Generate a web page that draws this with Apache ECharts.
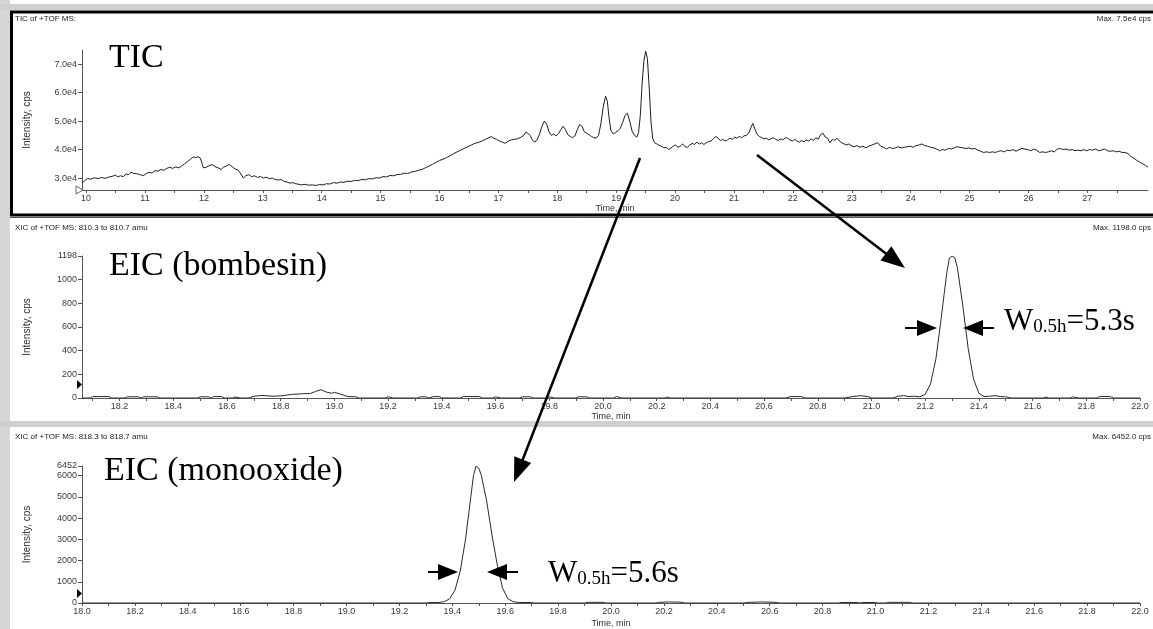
<!DOCTYPE html>
<html>
<head>
<meta charset="utf-8">
<script src="https://cdn.jsdelivr.net/npm/echarts@6/dist/echarts.min.js"></script>
<style>
html,body{margin:0;padding:0;background:#fff;}
#chart{width:1153px;height:629px;}
</style>
</head>
<body>
<div id="chart"></div>
<script>
// ---- DATA ----
// TIC: [time (min), intensity (x1e4 cps)]
const ticPoints = [
[9.93,2.82],[9.97,2.90],[10.02,2.98],[10.08,2.96],[10.14,3.01],[10.2,2.98],[10.26,3.02],[10.32,2.99],[10.38,3.03],[10.44,3.06],
[10.5,3.1],[10.54,3.04],[10.58,3.08],[10.63,3.05],[10.68,3.14],[10.72,3.12],[10.76,3.2],[10.8,3.17],[10.86,3.15],[10.92,3.12],
[10.97,3.08],[11.02,3.16],[11.07,3.2],[11.12,3.18],[11.17,3.26],[11.22,3.24],[11.27,3.3],[11.32,3.27],[11.37,3.34],[11.42,3.38],
[11.47,3.34],[11.52,3.39],[11.57,3.36],[11.62,3.42],[11.67,3.5],[11.72,3.58],[11.77,3.66],[11.82,3.74],[11.86,3.72],[11.9,3.75],
[11.94,3.7],[11.97,3.5],[11.99,3.36],[12.04,3.38],[12.09,3.44],[12.14,3.47],[12.19,3.4],[12.24,3.36],[12.29,3.3],[12.33,3.38],
[12.38,3.42],[12.43,3.48],[12.48,3.4],[12.53,3.32],[12.58,3.28],[12.63,3.14],[12.67,3.0],[12.71,3.08],[12.76,3.12],[12.81,3.05],
[12.86,3.08],[12.91,3.02],[12.96,3.06],[13.01,3.0],[13.06,3.03],[13.11,2.98],[13.16,3.0],[13.21,2.95],[13.26,2.93],[13.31,2.95],
[13.36,2.88],[13.41,2.86],[13.46,2.82],[13.51,2.84],[13.56,2.8],[13.61,2.78],[13.66,2.76],[13.72,2.78],[13.78,2.75],[13.84,2.76],
[13.9,2.74],[13.96,2.77],[14.02,2.76],[14.08,2.8],[14.14,2.79],[14.2,2.84],[14.26,2.82],[14.32,2.86],[14.38,2.85],[14.44,2.89],
[14.5,2.88],[14.56,2.92],[14.62,2.91],[14.68,2.95],[14.74,2.94],[14.8,2.98],[14.86,2.97],[14.92,3.01],[14.98,3.0],[15.04,3.05],
[15.1,3.04],[15.16,3.09],[15.22,3.08],[15.28,3.12],[15.34,3.13],[15.4,3.17],[15.46,3.16],[15.52,3.21],[15.58,3.23],[15.64,3.27],
[15.7,3.3],[15.76,3.36],[15.82,3.42],[15.88,3.48],[15.94,3.55],[16.0,3.62],[16.06,3.66],[16.12,3.72],[16.18,3.78],[16.24,3.86],
[16.3,3.92],[16.36,3.98],[16.42,4.04],[16.48,4.1],[16.54,4.16],[16.6,4.22],[16.66,4.25],[16.72,4.3],[16.78,4.36],[16.84,4.42],
[16.88,4.46],[16.92,4.4],[16.97,4.36],[17.02,4.3],[17.07,4.26],[17.12,4.22],[17.17,4.3],[17.22,4.34],[17.27,4.36],[17.32,4.38],
[17.37,4.42],[17.42,4.48],[17.47,4.62],[17.5,4.68],[17.54,4.5],[17.58,4.32],[17.62,4.26],[17.66,4.36],[17.7,4.55],[17.74,4.82],
[17.78,5.0],[17.82,4.9],[17.86,4.62],[17.9,4.5],[17.94,4.55],[17.98,4.48],[18.02,4.56],[18.06,4.7],[18.1,4.82],[18.14,4.7],
[18.18,4.52],[18.22,4.46],[18.26,4.42],[18.3,4.48],[18.34,4.7],[18.38,4.88],[18.42,4.82],[18.46,4.62],[18.5,4.58],[18.54,4.52],
[18.58,4.46],[18.62,4.42],[18.66,4.4],[18.7,4.5],[18.74,4.9],[18.78,5.5],[18.82,5.88],[18.85,5.7],[18.88,5.1],[18.91,4.68],
[18.95,4.55],[18.99,4.6],[19.03,4.66],[19.07,4.75],[19.11,4.95],[19.15,5.2],[19.19,5.28],[19.23,5.0],[19.27,4.65],[19.31,4.5],
[19.35,4.44],[19.38,4.6],[19.41,5.2],[19.44,6.3],[19.47,7.1],[19.5,7.46],[19.53,7.2],[19.56,6.2],[19.59,5.0],[19.62,4.4],
[19.65,4.24],[19.69,4.2],[19.73,4.15],[19.77,4.12],[19.81,4.06],[19.85,4.08],[19.89,4.0],[19.93,4.05],[19.97,4.12],[20.01,4.16],
[20.05,4.08],[20.09,4.12],[20.13,4.2],[20.17,4.1],[20.21,4.08],[20.25,4.16],[20.29,4.22],[20.33,4.18],[20.37,4.26],[20.41,4.2],
[20.45,4.24],[20.49,4.18],[20.53,4.24],[20.57,4.28],[20.61,4.3],[20.65,4.38],[20.69,4.46],[20.73,4.4],[20.77,4.32],[20.81,4.36],
[20.85,4.3],[20.89,4.34],[20.93,4.4],[20.97,4.36],[21.01,4.44],[21.05,4.4],[21.09,4.46],[21.13,4.42],[21.17,4.48],[21.21,4.5],
[21.25,4.58],[21.29,4.78],[21.32,4.92],[21.35,4.75],[21.39,4.55],[21.43,4.46],[21.47,4.42],[21.51,4.38],[21.55,4.4],[21.59,4.34],
[21.63,4.38],[21.67,4.42],[21.71,4.36],[21.75,4.32],[21.79,4.38],[21.83,4.34],[21.87,4.42],[21.91,4.4],[21.95,4.34],[21.99,4.3],
[22.03,4.36],[22.07,4.3],[22.11,4.26],[22.15,4.32],[22.19,4.28],[22.23,4.34],[22.27,4.3],[22.31,4.38],[22.35,4.32],[22.39,4.42],
[22.43,4.36],[22.47,4.52],[22.51,4.58],[22.55,4.44],[22.59,4.4],[22.63,4.24],[22.67,4.36],[22.71,4.32],[22.75,4.4],[22.79,4.3],
[22.83,4.24],[22.87,4.2],[22.91,4.16],[22.95,4.2],[22.99,4.14],[23.04,4.1],[23.09,4.14],[23.14,4.08],[23.19,4.12],[23.24,4.06],
[23.29,4.12],[23.34,4.16],[23.39,4.2],[23.44,4.24],[23.49,4.12],[23.54,4.08],[23.59,4.02],[23.64,4.08],[23.69,4.04],[23.74,4.06],
[23.79,4.1],[23.84,4.06],[23.89,4.08],[23.94,4.1],[23.99,4.12],[24.04,4.08],[24.09,4.14],[24.14,4.16],[24.19,4.2],[24.24,4.14],
[24.29,4.12],[24.34,4.08],[24.39,4.06],[24.44,4.02],[24.49,3.96],[24.54,4.0],[24.59,3.98],[24.64,4.04],[24.69,4.02],[24.74,4.06],
[24.79,4.1],[24.84,4.08],[24.89,4.06],[24.94,4.04],[24.99,4.06],[25.04,4.02],[25.09,4.04],[25.14,3.98],[25.19,3.94],[25.24,3.9],
[25.29,3.92],[25.34,3.9],[25.39,3.92],[25.44,3.9],[25.49,3.94],[25.54,3.96],[25.59,3.92],[25.64,3.98],[25.69,3.96],[25.74,4.0],
[25.79,3.94],[25.84,4.0],[25.89,4.04],[25.94,4.02],[25.99,4.0],[26.04,3.96],[26.09,4.02],[26.14,3.98],[26.19,3.9],[26.24,3.92],
[26.29,3.9],[26.34,3.92],[26.39,3.96],[26.44,3.92],[26.49,4.02],[26.54,4.04],[26.59,4.0],[26.64,4.02],[26.69,3.98],[26.74,4.0],
[26.79,3.96],[26.84,3.98],[26.89,3.96],[26.94,4.0],[26.99,3.96],[27.04,4.0],[27.09,3.98],[27.14,4.02],[27.19,3.96],[27.24,3.98],
[27.29,4.02],[27.34,3.96],[27.39,3.94],[27.44,3.96],[27.49,3.92],[27.54,3.94],[27.59,3.9],[27.64,3.9],[27.69,3.86],[27.74,3.76],
[27.79,3.7],[27.84,3.62],[27.89,3.56],[27.94,3.5],[27.99,3.44],[28.03,3.38]
];
// EIC bombesin (810.3-810.7 amu): [time (min), intensity (cps)]
const bombesinPoints = [
[18.06,0],[18.09,0],[18.10,12],[18.16,12],[18.17,0],[18.22,0],[18.23,10],[18.27,10],[18.28,0],[18.29,10],[18.34,10],[18.35,0],
[18.49,0],[18.5,10],[18.53,10],[18.54,0],[18.55,12],[18.58,12],[18.59,0],[18.62,0],[18.63,8],[18.65,0],[18.68,0],[18.70,15],
[18.73,22],[18.77,15],[18.8,18],[18.84,30],[18.88,36],[18.91,38],[18.93,55],[18.95,70],[18.97,50],[18.99,40],[19.0,48],[19.02,35],
[19.05,12],[19.08,10],[19.09,0],[19.19,0],[19.2,10],[19.22,0],[19.31,0],[19.32,10],[19.34,10],[19.35,0],[19.37,12],[19.39,12],
[19.4,0],[19.47,0],[19.48,12],[19.54,12],[19.55,0],[19.59,0],[19.6,10],[19.62,0],[19.69,0],[19.7,10],[19.73,10],[19.74,0],
[19.79,0],[19.8,10],[19.82,0],[19.9,0],[19.91,10],[19.94,10],[19.95,0],[20.04,0],[20.05,12],[20.07,0],[20.23,0],[20.24,8],
[20.25,0],[20.68,0],[20.7,12],[20.74,12],[20.75,0],[20.9,0],[20.93,12],[20.96,20],[20.99,10],[21.0,0],[21.08,0],[21.1,15],
[21.12,20],[21.14,12],[21.16,15],[21.18,10],[21.2,30],[21.22,120],[21.24,330],[21.26,680],[21.28,1050],[21.29,1180],[21.3,1198],
[21.31,1185],[21.32,1100],[21.34,780],[21.36,420],[21.38,160],[21.4,40],[21.42,12],[21.44,15],[21.46,20],[21.48,12],[21.5,10],
[21.52,0],[21.64,0],[21.65,8],[21.66,0],[21.74,0],[21.75,10],[21.77,0],[21.84,0],[21.85,12],[21.89,12],[21.9,0],[22.0,0]
];
// EIC monooxide (818.3-818.7 amu): [time (min), intensity (cps)]
const monooxidePoints = [
[18.0,0],[19.3,0],[19.31,25],[19.35,25],[19.37,60],[19.39,200],[19.41,600],[19.43,1500],[19.45,3000],[19.47,5000],[19.48,6000],
[19.49,6452],[19.5,6350],[19.51,6000],[19.53,4800],[19.55,3200],[19.57,1800],[19.59,700],[19.61,200],[19.63,60],[19.65,25],
[19.7,25],[19.71,0],[19.9,0],[19.91,30],[19.97,30],[19.98,0],[20.17,0],[20.18,30],[20.22,50],[20.26,40],[20.28,0],[20.5,0],
[20.52,30],[20.57,50],[20.62,30],[20.64,0],[20.86,0],[20.87,25],[20.93,25],[20.94,0],[20.95,25],[21.0,25],[21.01,0],[21.04,0],
[21.05,30],[21.13,30],[21.14,0],[22.0,0]
];
// Tick labels
const ticTimeLabels = [10,11,12,13,14,15,16,17,18,19,20,21,22,23,24,25,26,27];
const ticTimeTicks = [10,10.5,11,11.5,12,12.5,13,13.5,14,14.5,15,15.5,16,16.5,17,17.5,18,18.5,19,19.5,20,20.5,21,21.5,22,22.5,23,23.5,24,24.5,25,25.5,26,26.5,27,27.5];
const ticIntensityLabels = [3,4,5,6,7];
const bombesinTimeLabels = [18.2,18.4,18.6,18.8,19.0,19.2,19.4,19.6,19.8,20.0,20.2,20.4,20.6,20.8,21.0,21.2,21.4,21.6,21.8,22.0];
const monooxideTimeLabels = [18.0,18.2,18.4,18.6,18.8,19.0,19.2,19.4,19.6,19.8,20.0,20.2,20.4,20.6,20.8,21.0,21.2,21.4,21.6,21.8,22.0];
const eicTimeTicks = [18.1,18.2,18.3,18.4,18.5,18.6,18.7,18.8,18.9,19.0,19.1,19.2,19.3,19.4,19.5,19.6,19.7,19.8,19.9,20.0,20.1,20.2,20.3,20.4,20.5,20.6,20.7,20.8,20.9,21.0,21.1,21.2,21.3,21.4,21.5,21.6,21.7,21.8,21.9,22.0];
const bombesinIntensityLabels = [0,200,400,600,800,1000,1198];
const monooxideIntensityLabels = [0,1000,2000,3000,4000,5000,6000,6452];

// ---- CHART ----
const chart = echarts.init(document.getElementById('chart'), null, {renderer:'canvas'});
const SANS = 'Liberation Sans, Arial, sans-serif';
const SERIF = 'Liberation Serif, Times New Roman, serif';
const axisLineStyle = {color:'#555', width:1};
const lblStyle = {color:'#3a3a3a', fontSize:9, fontFamily:SANS};

function xAxisCfg(gi, min, max, labels, ticks, fmt, nameGap){
  return {
    type:'value', gridIndex:gi, min:min, max:max,
    name:'Time, min', nameLocation:'middle', nameGap:nameGap,
    nameTextStyle:{color:'#333', fontSize:9, fontFamily:SANS},
    axisLine:{show:true, onZero:false, lineStyle:axisLineStyle},
    axisTick:{show:true, length:3, customValues:ticks, lineStyle:{color:'#555'}},
    axisLabel:Object.assign({customValues:labels, margin:4, formatter:fmt}, lblStyle),
    splitLine:{show:false}
  };
}
function yAxisCfg(gi, min, max, labels, fmt, nameGap){
  return {
    type:'value', gridIndex:gi, min:min, max:max,
    name:'Intensity, cps', nameLocation:'middle', nameGap:nameGap, nameRotate:90,
    nameTextStyle:{color:'#333', fontSize:10, fontFamily:SANS},
    axisLine:{show:true, lineStyle:axisLineStyle},
    axisTick:{show:true, length:4, customValues:labels, lineStyle:{color:'#555'}},
    axisLabel:Object.assign({customValues:labels, margin:5, formatter:fmt}, lblStyle),
    splitLine:{show:false}
  };
}

function arrow(x1,y1,x2,y2,hl,hw,lw){
  const dx=x2-x1, dy=y2-y1, L=Math.sqrt(dx*dx+dy*dy), ux=dx/L, uy=dy/L;
  const bx=x2-ux*hl, by=y2-uy*hl, px=-uy*hw, py=ux*hw;
  return [
    {type:'line', shape:{x1:x1,y1:y1,x2:bx+ux*2,y2:by+uy*2}, style:{stroke:'#000', lineWidth:lw}, z:100},
    {type:'polygon', shape:{points:[[x2,y2],[bx+px,by+py],[bx-px,by-py]]}, style:{fill:'#000'}, z:100}
  ];
}
function headerText(x,y,text,align){
  return {type:'text', x:x, y:y, style:{text:text, fill:'#222', font:'8px '+SANS, align:align||'left', verticalAlign:'middle'}, z:50};
}
function wLabel(x,y,val){
  return {type:'text', x:x, y:y, z:60, style:{
    text:'{a|W}{b|0.5h}{a|='+val+'}',
    verticalAlign:'middle',
    rich:{
      a:{fontFamily:SERIF, fontSize:31, fill:'#000', verticalAlign:'bottom', lineHeight:34},
      b:{fontFamily:SERIF, fontSize:19, fill:'#000', verticalAlign:'bottom', lineHeight:28}
    }
  }};
}
function bigLabel(x,y,text){
  return {type:'text', x:x, y:y, z:60, style:{text:text, fill:'#000', font:'34px '+SERIF, verticalAlign:'middle'}};
}

const graphics = [
  {type:'rect', shape:{x:0,y:0,width:10,height:629}, style:{fill:'#d6d6d6'}, z:1},
  {type:'rect', shape:{x:0,y:4,width:1153,height:6}, style:{fill:'#d0d0d0'}, z:1},
  {type:'rect', shape:{x:0,y:421,width:1153,height:6}, style:{fill:'#cfcfcf'}, z:1},
  {type:'rect', shape:{x:11.5,y:12,width:1150,height:203}, style:{fill:'none', stroke:'#000', lineWidth:3}, z:2},
  {type:'line', shape:{x1:10,y1:217.5,x2:1153,y2:217.5}, style:{stroke:'#555', lineWidth:1}, z:2},
  headerText(15,19,'TIC of +TOF MS:'),
  headerText(1151,19,'Max. 7.5e4 cps','right'),
  headerText(15,228,'XIC of +TOF MS: 810.3 to 810.7 amu'),
  headerText(1151,228,'Max. 1198.0 cps','right'),
  headerText(15,437,'XIC of +TOF MS: 818.3 to 818.7 amu'),
  headerText(1151,437,'Max. 6452.0 cps','right'),
  bigLabel(109,58,'TIC'),
  bigLabel(109,266,'EIC (bombesin)'),
  bigLabel(104,471,'EIC (monooxide)'),
  wLabel(1004,320,'5.3s'),
  wLabel(548,572,'5.6s'),
  {type:'polygon', shape:{points:[[76,186],[76,194],[83,190]]}, style:{fill:'#fff', stroke:'#666', lineWidth:1}, z:40},
  {type:'polygon', shape:{points:[[77,380],[77,389],[82,384.5]]}, style:{fill:'#000'}, z:40},
  {type:'polygon', shape:{points:[[77,589],[77,598],[82,593.5]]}, style:{fill:'#000'}, z:40}
]
.concat(arrow(757,155,905,268,24,9,2.5))
.concat(arrow(640,158,514,482,24,9,2.5))
.concat(arrow(905,328,937,328,20,8,2))
.concat(arrow(994,328,963,328,20,8,2))
.concat(arrow(428,572,458,572,20,8,2))
.concat(arrow(518,572,487,572,20,8,2));

const option = {
  backgroundColor:'#ffffff',
  animation:false,
  grid:[
    {left:82, top:50, width:1066, height:140},
    {left:82, top:256, width:1058, height:142},
    {left:82, top:466, width:1058, height:142}
  ],
  xAxis:[
    xAxisCfg(0, 9.93, 28.03, ticTimeLabels, ticTimeTicks, v=>String(Math.round(v)), 13),
    xAxisCfg(1, 18.06, 22.0, bombesinTimeLabels, eicTimeTicks, v=>v.toFixed(1), 13),
    xAxisCfg(2, 18.0, 22.0, monooxideTimeLabels, eicTimeTicks.concat([18.0]), v=>v.toFixed(1), 16)
  ],
  yAxis:[
    yAxisCfg(0, 2.58, 7.5, ticIntensityLabels, v=>v.toFixed(1)+'e4', 50),
    yAxisCfg(1, 0, 1198, bombesinIntensityLabels, v=>String(v), 50),
    yAxisCfg(2, 0, 6452, monooxideIntensityLabels, v=>String(v), 50)
  ],
  series:[
    {type:'line', xAxisIndex:0, yAxisIndex:0, data:ticPoints, showSymbol:false, symbol:'none',
     lineStyle:{color:'#1e1e1e', width:1}},
    {type:'line', xAxisIndex:1, yAxisIndex:1, data:bombesinPoints, showSymbol:false, symbol:'none',
     lineStyle:{color:'#2a2a2a', width:1}},
    {type:'line', xAxisIndex:2, yAxisIndex:2, data:monooxidePoints, showSymbol:false, symbol:'none',
     lineStyle:{color:'#2a2a2a', width:1}}
  ],
  graphic:graphics
};
chart.setOption(option);
</script>
</body>
</html>
